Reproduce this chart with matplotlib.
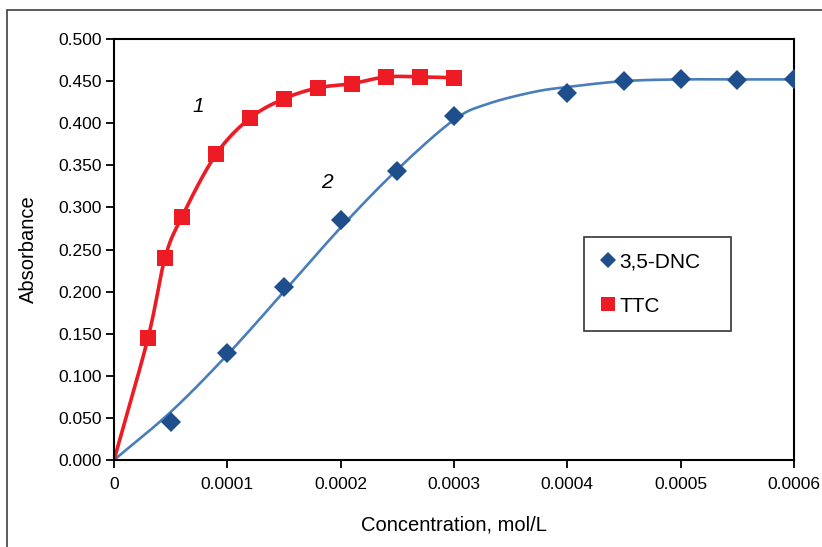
import numpy as np
import matplotlib
matplotlib.use("Agg")
import matplotlib.pyplot as plt
from matplotlib.patches import Rectangle
from matplotlib.ticker import FixedLocator, FixedFormatter

plt.rcParams['font.family'] = ['Liberation Sans', 'DejaVu Sans']

# --- data ---
ttc_x = [0.00003, 0.000045, 0.00006, 0.00009, 0.00012, 0.00015, 0.00018, 0.00021, 0.00024, 0.00027, 0.0003]
ttc_y = [0.145, 0.240, 0.289, 0.363, 0.406, 0.429, 0.442, 0.447, 0.455, 0.455, 0.454]

dnc_x = [0.00005, 0.0001, 0.00015, 0.0002, 0.00025, 0.0003, 0.0004, 0.00045, 0.0005, 0.00055, 0.0006]
dnc_y = [0.045, 0.127, 0.205, 0.285, 0.343, 0.409, 0.436, 0.450, 0.452, 0.451, 0.452]

# trend line of series 2
dnc_fit_x = [0, 0.00005, 0.0001, 0.00015, 0.0002, 0.00025, 0.0003, 0.00033, 0.00037, 0.0004, 0.00045, 0.0005, 0.00055, 0.0006]
dnc_fit_y = [0, 0.057, 0.125, 0.200, 0.276, 0.345, 0.404, 0.423, 0.437, 0.443, 0.450, 0.452, 0.452, 0.452]

x_ticks = [0, 0.0001, 0.0002, 0.0003, 0.0004, 0.0005, 0.0006]
x_tick_labels = ['0', '0.0001', '0.0002', '0.0003', '0.0004', '0.0005', '0.0006']
y_ticks = [0, 0.05, 0.1, 0.15, 0.2, 0.25, 0.3, 0.35, 0.4, 0.45, 0.5]
y_tick_labels = ['%.3f' % v for v in y_ticks]

RED = '#ED1C24'
BLUE_M = '#1F4E8C'
BLUE_L = '#4A7EBB'


def smooth(xs, ys, n=30):
    """Catmull-Rom style smoothing through the given points (display of a smoothed line)."""
    p = np.column_stack([xs, ys]).astype(float)
    sx = p[:, 0].max() - p[:, 0].min()
    sy = p[:, 1].max() - p[:, 1].min()
    q = p / [sx, sy]
    q = np.vstack([2 * q[0] - q[1], q, 2 * q[-1] - q[-2]])
    out = []
    for i in range(1, len(q) - 2):
        p0, p1, p2, p3 = q[i - 1], q[i], q[i + 1], q[i + 2]
        t = np.linspace(0, 1, n, endpoint=False)[:, None]
        pts = 0.5 * ((2 * p1) + (-p0 + p2) * t + (2 * p0 - 5 * p1 + 4 * p2 - p3) * t ** 2
                     + (-p0 + 3 * p1 - 3 * p2 + p3) * t ** 3)
        out.append(pts)
    out.append(q[-2][None, :])
    out = np.vstack(out) * [sx, sy]
    return out[:, 0], out[:, 1]


fig = plt.figure(figsize=(8.22, 5.47), dpi=100)
ax = fig.add_axes([114 / 822, 87 / 547, 680 / 822, 421 / 547])

# outer frame
fig.patches.append(Rectangle((7 / 822, -0.05), 1.2, (547 - 10) / 547 + 0.05, transform=fig.transFigure,
                             fill=False, edgecolor='#404040', linewidth=1.2))

# curves
bx, by = smooth(dnc_fit_x, dnc_fit_y)
ax.plot(bx, by, color=BLUE_L, lw=1.9, zorder=2, solid_capstyle='round')
rx, ry = smooth([0] + ttc_x, [0] + ttc_y)
ax.plot(rx, ry, color=RED, lw=2.6, zorder=2, solid_capstyle='round')

ax.plot(dnc_x, dnc_y, linestyle='none', marker='D', markersize=10, color=BLUE_M,
        markeredgewidth=0, zorder=3, label='3,5-DNC')
ax.plot(ttc_x, ttc_y, linestyle='none', marker='s', markersize=11.5, color=RED,
        markeredgewidth=0, zorder=3, label='TTC')

ax.set_xlim(0, 0.0006)
ax.set_ylim(0, 0.5)
ax.xaxis.set_major_locator(FixedLocator(x_ticks))
ax.xaxis.set_major_formatter(FixedFormatter(x_tick_labels))
ax.yaxis.set_major_locator(FixedLocator(y_ticks))
ax.yaxis.set_major_formatter(FixedFormatter(y_tick_labels))
ax.tick_params(axis='both', direction='out', length=6, width=1.3, labelsize=12.5, colors='black')
ax.tick_params(axis='x', pad=6)
ax.tick_params(axis='y', pad=3)
for s in ax.spines.values():
    s.set_linewidth(1.5)
    s.set_color('black')

ax.set_xlabel('Concentration, mol/L', fontsize=14.5, labelpad=17)
ax.set_ylabel('Absorbance', fontsize=14.5, labelpad=14)

ax.text(0.0000745, 0.420, '1', fontsize=15, style='italic', ha='center', va='center')
ax.text(0.000188, 0.329, '2', fontsize=15, style='italic', ha='center', va='center')

lx0 = (584 - 114) / 680
lw_ = (731 - 584) / 680
ltop = (460 - 237) / 421
leg = ax.legend(loc='upper left', bbox_to_anchor=(lx0, ltop - 0.3, lw_, 0.3), mode='expand',
                fontsize=15, frameon=True, fancybox=False, edgecolor='black',
                handlelength=0.8, handletextpad=0.15, borderpad=0.75, labelspacing=1.2,
                markerscale=0.85, borderaxespad=0)
leg.get_frame().set_linewidth(1.2)

fig.savefig('out.png', dpi=100)
